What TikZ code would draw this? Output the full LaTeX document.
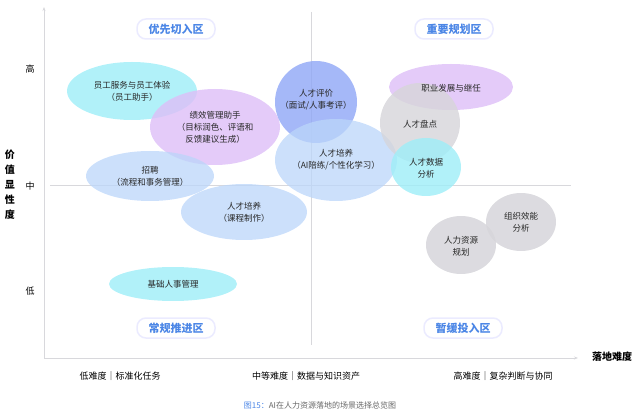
\documentclass[tikz,border=0pt]{standalone}
\usepackage{fontspec}
\setmainfont{Noto Sans CJK SC}
\usetikzlibrary{arrows.meta}
\definecolor{cy}{HTML}{9EEEF8}
\definecolor{pu}{HTML}{DDBEF7}
\definecolor{lb}{HTML}{BBD6FA}
\definecolor{bl}{HTML}{8FA6F6}
\definecolor{gr}{HTML}{D6D5DA}
\definecolor{zt}{HTML}{4B86E6}
\definecolor{ax}{HTML}{D8D8DC}
\begin{document}
\begin{tikzpicture}[x=1pt,y=-1pt,
  bub/.style={fill opacity=0.75,text opacity=1,draw=none,align=center,font=\fontsize{8.5}{12}\selectfont,text=black!85},
  zone/.style={rounded corners=9pt,fill=white,draw=blue!8,line width=1.5pt,minimum width=78pt,minimum height=20pt,font=\bfseries\fontsize{11}{13}\selectfont,text=zt},
  lev/.style={font=\fontsize{9}{11}\selectfont},
  xl/.style={font=\fontsize{9}{11}\selectfont}]
\useasboundingbox (0,0) rectangle (639,411);
\coordinate (yb) at (44,358); \coordinate (yt) at (44,7); \coordinate (xe) at (578,358);
\draw[ax,line width=0.8pt,-{Stealth[length=4pt]}] (yb) -- (yt);
\draw[ax,line width=0.8pt,-{Stealth[length=4pt]}] (yb) -- (xe);
\coordinate (vt) at (311,12); \coordinate (vb) at (311,345);
\coordinate (hl) at (50,185); \coordinate (hr) at (571,185);
\draw[ax,line width=0.6pt] (vt) -- (vb);
\draw[ax,line width=0.6pt] (hl) -- (hr);
\path[fill=cy,opacity=0.8] (132,91) ellipse [x radius=65,y radius=29];
\path[fill=pu,opacity=0.8] (215,127) ellipse [x radius=65,y radius=38];
\path[fill=lb,opacity=0.75] (150,176) ellipse [x radius=64,y radius=25];
\path[fill=lb,opacity=0.75] (244,212) ellipse [x radius=63,y radius=28];
\path[fill=bl,opacity=0.8] (316,102) ellipse [x radius=41,y radius=41];
\path[fill=lb,opacity=0.75] (336,160) ellipse [x radius=61,y radius=41];
\path[fill=pu,opacity=0.8] (451,87) ellipse [x radius=62,y radius=23];
\path[fill=gr,opacity=0.8] (420,123) ellipse [x radius=40,y radius=40];
\path[fill=cy,opacity=0.8] (426,167) ellipse [x radius=35,y radius=29];
\path[fill=gr,opacity=0.85] (521,222) ellipse [x radius=35,y radius=29];
\path[fill=gr,opacity=0.85] (461,245) ellipse [x radius=35,y radius=29];
\path[fill=cy,opacity=0.8] (173,284) ellipse [x radius=64,y radius=17];
\node[bub] (a) at (132,91) {员工服务与员工体验\\（员工助手）};
\node[bub] (b) at (215,127) {绩效管理助手\\（目标润色、评语和\\反馈建议生成）};
\node[bub] (c) at (150,176) {招聘\\（流程和事务管理）};
\node[bub] (d) at (244,212) {人才培养\\（课程制作）};
\node[bub] (e) at (316,100) {人才评价\\（面试/人事考评）};
\node[bub] (f) at (336,160) {人才培养\\（AI陪练/个性化学习）};
\node[bub] (g) at (451,88) {职业发展与继任};
\node[bub] (h) at (420,124) {人才盘点};
\node[bub] (i) at (426,168) {人才数据\\分析};
\node[bub] (j) at (521,222) {组织效能\\分析};
\node[bub] (k) at (461,246) {人力资源\\规划};
\node[bub] (l) at (173,284) {基础人事管理};
\node[zone] (z1) at (176,29) {优先切入区};
\node[zone] (z2) at (454,29) {重要规划区};
\node[zone] (z3) at (176,328) {常规推进区};
\node[zone] (z4) at (463,328) {暂缓投入区};
\node[lev] (h1) at (30,69) {高};
\node[lev] (h2) at (30,186) {中};
\node[lev] (h3) at (30,291) {低};
\node[font=\bfseries\fontsize{10}{15}\selectfont,align=center] (yl) at (10,185) {价\\值\\显\\性\\度};
\node[font=\bfseries\fontsize{10}{12}\selectfont] (xlab) at (612,357) {落地难度};
\node[xl] (x1) at (120,376) {低难度｜标准化任务};
\node[xl] (x2) at (306,376) {中等难度｜数据与知识资产};
\node[xl] (x3) at (503,376) {高难度｜复杂判断与协同};
\node[font=\fontsize{8}{10}\selectfont,text=black!60] (cap) at (320,405) {\textcolor{zt}{图15：}AI在人力资源落地的场景选择总览图};
\end{tikzpicture}
\end{document}
